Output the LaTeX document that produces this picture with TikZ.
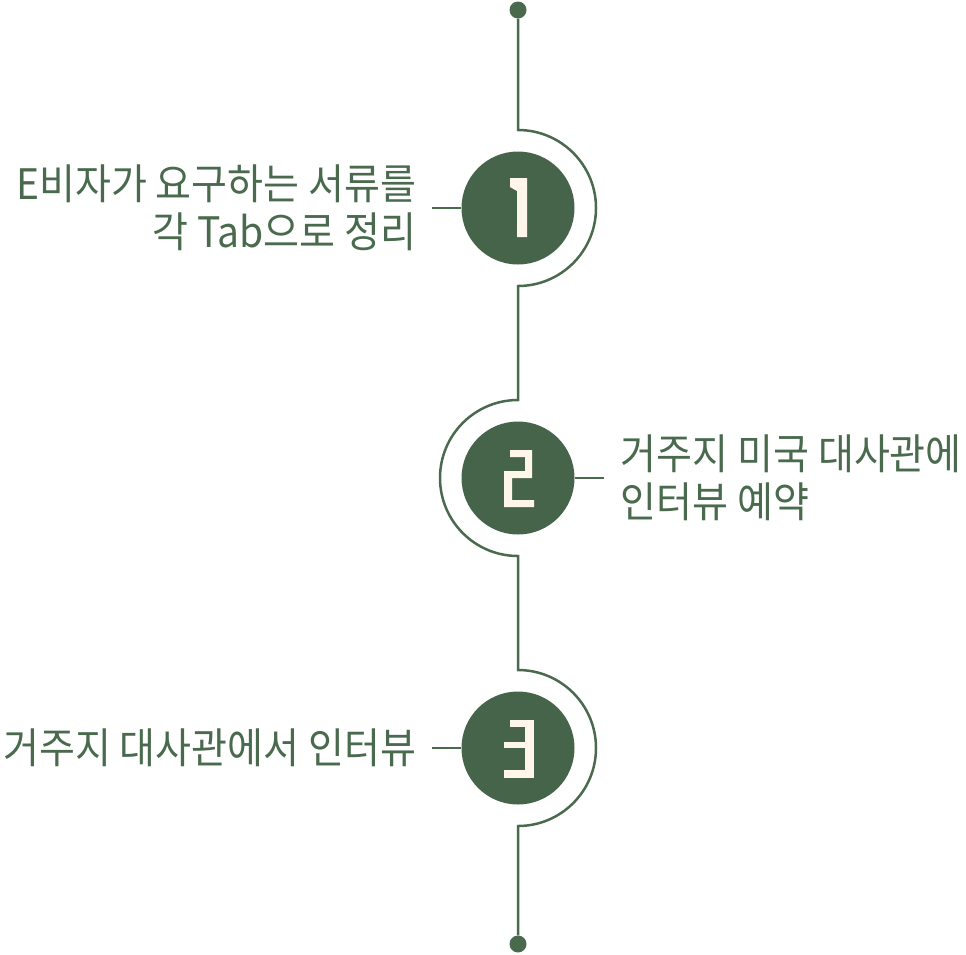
\documentclass[tikz,border=0pt]{standalone}
\usepackage{fontspec}
\setmainfont{Noto Sans CJK KR}[FakeStretch=0.93]
\usetikzlibrary{positioning,calc}
\definecolor{stem}{HTML}{4A6A4E}
\definecolor{disc}{HTML}{466449}
\definecolor{cream}{HTML}{FFF6E9}

\begin{document}
\begin{tikzpicture}[x=1pt,y=-1pt,
  stepdisc/.style={circle,fill=disc,minimum size=113,inner sep=0},
  enddot/.style={circle,fill=stem,minimum size=17,inner sep=0},
  steptext/.style={text=stem,inner sep=0,font=\fontsize{42}{48}\selectfont},
  stemline/.style={draw=stem,line width=2.5pt}]
\useasboundingbox (0,0) rectangle (966,954);

% timeline dots and steps
\node[enddot] (top) at (518,10) {};
\node[enddot] (bot) at (518,944) {};
\node[stepdisc] (c1) at (518,208) {};
\node[stepdisc] (c2) at (518,478) {};
\node[stepdisc] (c3) at (518,748) {};

\foreach \s in {1,2,3}{
  \coordinate (a\s) at ($(c\s)+(0,-78)$);
}

\draw[stemline] (top) -- (a1) arc[start angle=-90,end angle=90,radius=78]
  -- (a2) arc[start angle=270,end angle=90,radius=78]
  -- (a3) arc[start angle=-90,end angle=90,radius=78] -- (bot);

% labels
\node[steptext,align=right,left=45 of c1] (t1) {E비자가 요구하는 서류를\\각 Tab으로 정리};
\node[steptext,align=left,right=46 of c2] (t2) {거주지 미국 대사관에\\인터뷰 예약};
\node[steptext,left=45 of c3] (t3) {거주지 대사관에서 인터뷰};

\coordinate[left=29 of c1] (k1);
\coordinate[right=29 of c2] (k2);
\coordinate[left=29 of c3] (k3);
\draw[stemline] (c1) -- (k1);
\draw[stemline] (c2) -- (k2);
\draw[stemline] (c3) -- (k3);

% digits
\begin{scope}[shift={(c1.center)}]
  \fill[cream] (-8,-30) -- (9,-30) -- (9,29) -- (-1,29) -- (-1,-17) -- (-8,-21) -- cycle;
\end{scope}
\begin{scope}[shift={(c2.center)}]
  \fill[cream] (-8,-28) -- (14,-28) -- (14,0) -- (-6,0) -- (-6,22) -- (16,22)
    -- (16,29) -- (-14,29) -- (-14,-7) -- (7,-7) -- (7,-21) -- (-8,-21) -- cycle;
\end{scope}
\begin{scope}[shift={(c3.center)}]
  \fill[cream] (-8,-28) rectangle (16,-21);
  \fill[cream] (7,-28) rectangle (16,30);
  \fill[cream] (-14,-6) rectangle (16,0);
  \fill[cream] (-14,22) rectangle (16,30);
\end{scope}
\end{tikzpicture}
\end{document}
